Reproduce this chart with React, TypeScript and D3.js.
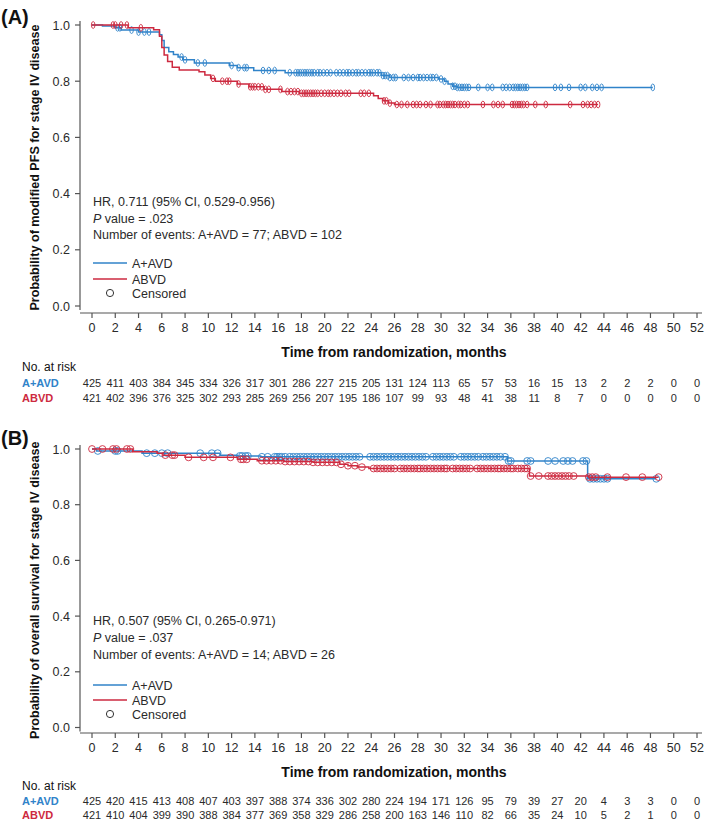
import React from 'react';
import * as d3 from 'd3';

const BLUE = '#3083c9';
const RED = '#cd2a40';
const AXIS = '#555555';
const TXT = '#2a2a2a';

const monthTicks = [0, 2, 4, 6, 8, 10, 12, 14, 16, 18, 20, 22, 24, 26, 28, 30, 32, 34, 36, 38, 40, 42, 44, 46, 48, 50, 52];
const probTicks = [0, 0.2, 0.4, 0.6, 0.8, 1.0];
const probLabels = ['0.0', '0.2', '0.4', '0.6', '0.8', '1.0'];

// ---- Panel A: modified PFS ----
const pfsAAVDSteps: [number, number][] = [
  [0.9, 0.996], [2.0, 0.99], [2.5, 0.982], [4.0, 0.975], [5.8, 0.965], [6.0, 0.945], [6.2, 0.92],
  [6.6, 0.905], [7.0, 0.895], [7.4, 0.886], [7.8, 0.876], [8.8, 0.865], [11.8, 0.856], [12.5, 0.848],
  [13.9, 0.838], [16.6, 0.83], [24.9, 0.82], [25.6, 0.813], [29.8, 0.808], [30.3, 0.8], [30.6, 0.79],
  [31.0, 0.782], [31.4, 0.778],
];
const pfsAAVDCensor = [
  2.2, 2.4, 3.4, 4.0, 4.5, 4.9, 7.7, 8.0, 9.1, 9.7, 12.0, 12.6, 13.1, 13.3, 14.7, 15.2, 15.7, 17.0, 17.5,
  17.7, 17.9, 18.1, 18.3, 18.5, 18.7, 18.9, 19.1, 19.4, 19.6, 19.9, 20.2, 20.5, 21.0, 21.3, 21.6, 21.9,
  22.1, 22.4, 22.7, 22.9, 23.2, 23.5, 23.8, 24.0, 24.2, 24.5, 24.7, 25.0, 25.2, 25.4, 25.6, 25.9, 26.1,
  26.8, 27.2, 27.6, 28.0, 28.2, 28.5, 28.8, 29.1, 29.3, 29.6, 30.0, 30.3, 31.0, 31.2, 31.4, 31.6, 31.8,
  32.0, 32.2, 32.4, 33.2, 34.0, 34.4, 35.3, 35.6, 35.9, 36.2, 36.4, 36.6, 36.8, 37.0, 37.2, 37.4, 39.8,
  40.3, 41.0, 42.0, 42.4, 43.0, 43.4, 43.8, 48.2,
];
const pfsABVDSteps: [number, number][] = [
  [3.1, 0.99], [5.3, 0.983], [5.8, 0.96], [6.0, 0.92], [6.2, 0.893], [6.5, 0.87], [6.9, 0.85],
  [7.5, 0.84], [9.2, 0.834], [9.7, 0.822], [10.2, 0.81], [10.6, 0.8], [12.5, 0.79], [13.5, 0.78],
  [14.8, 0.771], [16.3, 0.763], [17.8, 0.757], [24.2, 0.748], [24.6, 0.738], [25.0, 0.73],
  [25.5, 0.722], [26.0, 0.717],
];
const pfsABVDCensor = [
  0.1, 1.8, 2.0, 2.5, 3.0, 4.2, 10.4, 11.2, 11.6, 11.8, 12.6, 13.6, 13.8, 14.0, 14.3, 14.6, 14.9, 15.2,
  16.2, 16.8, 17.1, 17.4, 17.7, 18.0, 18.2, 18.4, 18.6, 18.8, 19.0, 19.2, 19.4, 19.7, 20.0, 20.3, 20.5,
  20.8, 21.1, 21.4, 21.8, 22.1, 23.1, 23.4, 23.8, 25.1, 25.3, 25.6, 26.2, 26.6, 27.1, 27.6, 27.9, 28.2,
  28.7, 29.1, 29.7, 29.9, 30.2, 30.4, 30.6, 30.8, 31.0, 31.2, 31.5, 31.7, 32.0, 32.3, 33.6, 34.5, 34.9,
  35.3, 36.1, 36.3, 36.5, 36.7, 36.9, 37.1, 37.4, 38.1, 39.0, 41.1, 42.2, 42.6, 42.9, 43.2, 43.5,
];
const pfsRiskAAVD = [425, 411, 403, 384, 345, 334, 326, 317, 301, 286, 227, 215, 205, 131, 124, 113, 65, 57, 53, 16, 15, 13, 2, 2, 2, 0, 0];
const pfsRiskABVD = [421, 402, 396, 376, 325, 302, 293, 285, 269, 256, 207, 195, 186, 107, 99, 93, 48, 41, 38, 11, 8, 7, 0, 0, 0, 0, 0];

// ---- Panel B: overall survival ----
const osAAVDSteps: [number, number][] = [
  [0.4, 0.993], [4.3, 0.985], [11.0, 0.978], [12.5, 0.975], [14.5, 0.972], [35.7, 0.957], [42.6, 0.893],
];
const osAAVDCensor = [
  0.5, 2.0, 2.2, 4.7, 5.4, 6.0, 6.5, 9.3, 10.3, 10.8, 12.7, 12.9, 13.2, 13.4, 14.6, 15.1, 15.7, 15.9,
  16.1, 16.3, 16.6, 17.0, 17.3, 17.6, 17.9, 18.2, 18.5, 18.8, 19.1, 19.4, 19.7, 20.0, 20.3, 20.6, 20.9,
  21.2, 21.5, 21.8, 22.1, 22.4, 22.7, 23.0, 23.9, 24.2, 24.5, 24.8, 25.1, 25.4, 25.7, 26.0, 26.3, 26.6,
  26.9, 27.2, 27.5, 27.8, 28.1, 28.4, 28.7, 29.3, 29.6, 29.9, 30.2, 30.5, 30.8, 31.1, 31.7, 32.0, 32.3,
  32.6, 32.9, 33.2, 33.6, 33.9, 34.2, 34.5, 34.8, 35.1, 35.5, 35.8, 36.0, 37.4, 37.7, 39.2, 39.8, 40.5,
  40.9, 41.3, 42.2, 42.5, 42.8, 43.1, 43.4, 43.7, 44.0, 44.3, 48.5,
];
const osABVDSteps: [number, number][] = [
  [3.5, 0.99], [5.6, 0.985], [6.1, 0.978], [8.0, 0.97], [12.5, 0.963], [14.2, 0.958], [16.5, 0.955],
  [19.0, 0.952], [21.3, 0.945], [22.0, 0.94], [22.8, 0.935], [23.8, 0.93], [37.6, 0.903], [42.7, 0.899],
];
const osABVDCensor = [
  0.0, 0.9, 1.8, 2.1, 3.0, 3.3, 6.3, 6.9, 7.1, 8.3, 9.6, 10.4, 11.9, 12.8, 13.0, 13.3, 14.6, 15.0, 15.4,
  15.8, 16.2, 16.6, 17.0, 17.4, 17.8, 18.2, 18.6, 19.0, 19.4, 19.8, 20.2, 20.6, 21.0, 21.4, 22.0, 22.6,
  23.2, 24.2, 24.5, 24.8, 25.1, 25.4, 25.7, 26.0, 26.5, 26.8, 27.1, 27.4, 27.7, 28.0, 28.2, 28.5, 28.8,
  29.1, 29.4, 29.7, 30.0, 30.3, 30.5, 31.0, 31.3, 31.6, 31.9, 32.2, 32.5, 33.1, 33.4, 33.7, 34.0, 34.3,
  34.6, 34.9, 35.1, 35.4, 35.7, 36.0, 36.2, 36.6, 36.9, 37.2, 37.4, 37.7, 38.4, 39.2, 39.5, 39.8, 40.1,
  40.4, 40.7, 41.0, 41.4, 42.7, 43.0, 43.3, 44.3, 45.9, 47.3, 48.7,
];
const osRiskAAVD = [425, 420, 415, 413, 408, 407, 403, 397, 388, 374, 336, 302, 280, 224, 194, 171, 126, 95, 79, 39, 27, 20, 4, 3, 3, 0, 0];
const osRiskABVD = [421, 410, 404, 399, 390, 388, 384, 377, 369, 358, 329, 286, 258, 200, 163, 146, 110, 82, 66, 35, 24, 10, 5, 2, 1, 0, 0];

const SANS = "'Liberation Sans', Arial, Helvetica, sans-serif";
const NARROW = "'Liberation Sans Narrow', 'Arial Narrow', 'Liberation Sans', sans-serif";

const x = d3.scaleLinear().domain([0, 52]).range([92, 697]);

function survAt(steps: [number, number][], t: number) {
  let s = 1;
  for (const [tt, ss] of steps) if (tt <= t) s = ss;
  return s;
}

type Arm = { steps: [number, number][]; censor: number[]; color: string };

type PanelCfg = {
  letter: string;
  letterY: number;
  yTop: number;
  yBottom: number;
  axisY: number;
  yTitle: string;
  notes: string[];
  notesY: number[];
  legendY: number[];
  arms: Arm[];
  risk: number[][];
  tickLabelY: number;
  titleY: number;
  noRiskY: number;
  rowY: number[];
  ellipse: boolean;
};

const panels: PanelCfg[] = [
  {
    letter: '(A)', letterY: 24, yTop: 25, yBottom: 306, axisY: 313,
    yTitle: 'Probability of modified PFS for stage IV disease',
    notes: ['HR, 0.711 (95% CI, 0.529-0.956)', 'P', 'Number of events: A+AVD = 77; ABVD = 102'],
    notesY: [205.5, 222.5, 239], legendY: [263, 279, 293],
    arms: [
      { steps: pfsAAVDSteps, censor: pfsAAVDCensor, color: BLUE },
      { steps: pfsABVDSteps, censor: pfsABVDCensor, color: RED },
    ],
    risk: [pfsRiskAAVD, pfsRiskABVD],
    tickLabelY: 332, titleY: 357, noRiskY: 370.5, rowY: [386.5, 401.5], ellipse: true,
  },
  {
    letter: '(B)', letterY: 445, yTop: 449, yBottom: 727.5, axisY: 733,
    yTitle: 'Probability of overall survival for stage IV disease',
    notes: ['HR, 0.507 (95% CI, 0.265-0.971)', 'P', 'Number of events: A+AVD = 14; ABVD = 26'],
    notesY: [624.5, 641.5, 658.5], legendY: [685, 700, 714],
    arms: [
      { steps: osAAVDSteps, censor: osAAVDCensor, color: BLUE },
      { steps: osABVDSteps, censor: osABVDCensor, color: RED },
    ],
    risk: [osRiskAAVD, osRiskABVD],
    tickLabelY: 752, titleY: 777, noRiskY: 790, rowY: [805, 818.5], ellipse: false,
  },
];

const pValues = ['.023', '.037'];

function Panel({ cfg, idx }: { cfg: PanelCfg; idx: number }) {
  const y = d3.scaleLinear().domain([0, 1]).range([cfg.yBottom, cfg.yTop]);
  const line = d3.line<[number, number]>().x((d) => x(d[0])).y((d) => y(d[1])).curve(d3.curveStepAfter);
  const rowLabels = ['A+AVD', 'ABVD'];
  const rowColors = [BLUE, RED];
  return (
    <g>
      <text x={1} y={cfg.letterY} fontFamily={SANS} fontWeight="bold" fontSize={20} fill="#111">{cfg.letter}</text>
      {/* y axis */}
      <line x1={80} x2={80} y1={cfg.yTop - 4} y2={cfg.yBottom + 4} stroke={AXIS} strokeWidth={1.2} />
      {probTicks.map((p, i) => (
        <g key={p}>
          <line x1={75} x2={80} y1={y(p)} y2={y(p)} stroke={AXIS} strokeWidth={1.2} />
          <text x={70} y={y(p) + 4.5} textAnchor="end" fontFamily={SANS} fontSize={12.5} fill={TXT}>{probLabels[i]}</text>
        </g>
      ))}
      <text transform={`translate(39,${(cfg.yTop + cfg.yBottom) / 2 + 2}) rotate(-90)`} textAnchor="middle"
        fontFamily={NARROW} fontWeight="bold" fontSize={12.6} fill="#111">{cfg.yTitle}</text>
      {/* x axis */}
      <line x1={80} x2={702} y1={cfg.axisY} y2={cfg.axisY} stroke={AXIS} strokeWidth={1.2} />
      {monthTicks.map((m) => (
        <g key={m}>
          <line x1={x(m)} x2={x(m)} y1={cfg.axisY} y2={cfg.axisY + 5} stroke={AXIS} strokeWidth={1.2} />
          <text x={x(m)} y={cfg.tickLabelY} textAnchor="middle" fontFamily={SANS} fontSize={12.5} fill={TXT}>{m}</text>
        </g>
      ))}
      <text x={394} y={cfg.titleY} textAnchor="middle" fontFamily={NARROW} fontWeight="bold" fontSize={14} fill="#111">
        Time from randomization, months
      </text>
      {/* curves */}
      {cfg.arms.map((arm, ai) => {
        const end = Math.max(arm.censor[arm.censor.length - 1], arm.steps[arm.steps.length - 1][0]);
        const pts: [number, number][] = [[0, 1], ...arm.steps, [end, arm.steps[arm.steps.length - 1][1]]];
        return (
          <g key={ai}>
            <path d={line(pts) || ''} fill="none" stroke={arm.color} strokeWidth={1.5} />
            {arm.censor.map((t, ci) =>
              cfg.ellipse ? (
                <ellipse key={ci} cx={x(t)} cy={y(survAt(arm.steps, t))} rx={1.8} ry={3.4} fill="none" stroke={arm.color} strokeWidth={0.9} />
              ) : (
                <circle key={ci} cx={x(t)} cy={y(survAt(arm.steps, t))} r={3.4} fill="none" stroke={arm.color} strokeWidth={0.9} />
              )
            )}
          </g>
        );
      })}
      {/* annotations */}
      <text x={93} y={cfg.notesY[0]} fontFamily={SANS} fontSize={12.5} fill={TXT}>{cfg.notes[0]}</text>
      <text x={93} y={cfg.notesY[1]} fontFamily={SANS} fontSize={12.5} fill={TXT}>
        <tspan fontStyle="italic">P</tspan> value = {pValues[idx]}
      </text>
      <text x={93} y={cfg.notesY[2]} fontFamily={SANS} fontSize={12.5} fill={TXT}>{cfg.notes[2]}</text>
      {/* legend */}
      <line x1={93} x2={127} y1={cfg.legendY[0]} y2={cfg.legendY[0]} stroke={BLUE} strokeWidth={1.5} />
      <text x={132} y={cfg.legendY[0] + 4.5} fontFamily={SANS} fontSize={12.5} fill={TXT}>A+AVD</text>
      <line x1={93} x2={127} y1={cfg.legendY[1]} y2={cfg.legendY[1]} stroke={RED} strokeWidth={1.5} />
      <text x={132} y={cfg.legendY[1] + 4.5} fontFamily={SANS} fontSize={12.5} fill={TXT}>ABVD</text>
      <circle cx={110} cy={cfg.legendY[2]} r={3.6} fill="none" stroke="#333" strokeWidth={1} />
      <text x={132} y={cfg.legendY[2] + 4.5} fontFamily={SANS} fontSize={12.5} fill={TXT}>Censored</text>
      {/* risk table */}
      <text x={22} y={cfg.noRiskY} fontFamily={NARROW} fontSize={12} fill="#111">No. at risk</text>
      {cfg.risk.map((row, ri) => (
        <g key={ri}>
          <text x={22} y={cfg.rowY[ri]} fontFamily={NARROW} fontWeight="bold" fontSize={11} fill={rowColors[ri]}>{rowLabels[ri]}</text>
          {row.map((v, vi) => (
            <text key={vi} x={x(monthTicks[vi])} y={cfg.rowY[ri]} textAnchor="middle" fontFamily={NARROW} fontSize={11} fill={TXT}>{v}</text>
          ))}
        </g>
      ))}
    </g>
  );
}

export default function App() {
  return (
    <svg width={709} height={820} viewBox="0 0 709 820" style={{ position: 'absolute', left: 0, top: 0, background: '#fff' }}>
      <rect x={0} y={0} width={709} height={820} fill="#fff" />
      {panels.map((p, i) => (
        <Panel key={i} cfg={p} idx={i} />
      ))}
    </svg>
  );
}
